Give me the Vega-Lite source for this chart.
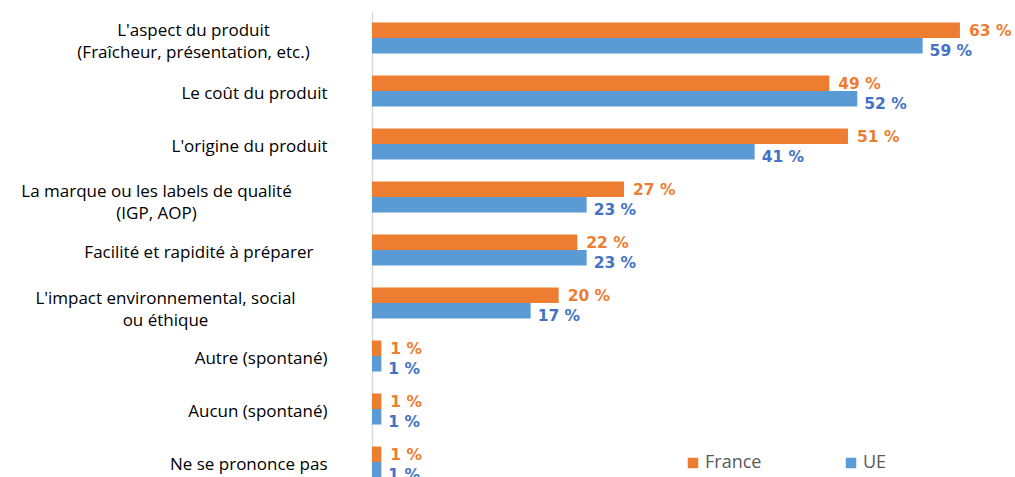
{
  "$schema": "https://vega.github.io/schema/vega-lite/v6.json",
  "width": 643,
  "height": 477,
  "autosize": {"type": "none"},
  "padding": {"left": 372, "top": 0, "right": 0, "bottom": 0},
  "background": "white",
  "config": {"view": {"stroke": null}},
  "data": {
    "values": [
      {"cat": "L'aspect du produit|(Fraîcheur, présentation, etc.)", "serie": "France", "v": 63, "lab": "63 %"},
      {"cat": "L'aspect du produit|(Fraîcheur, présentation, etc.)", "serie": "UE", "v": 59, "lab": "59 %"},
      {"cat": "Le coût du produit", "serie": "France", "v": 49, "lab": "49 %"},
      {"cat": "Le coût du produit", "serie": "UE", "v": 52, "lab": "52 %"},
      {"cat": "L'origine du produit", "serie": "France", "v": 51, "lab": "51 %"},
      {"cat": "L'origine du produit", "serie": "UE", "v": 41, "lab": "41 %"},
      {"cat": "La marque ou les labels de qualité|(IGP, AOP)", "serie": "France", "v": 27, "lab": "27 %"},
      {"cat": "La marque ou les labels de qualité|(IGP, AOP)", "serie": "UE", "v": 23, "lab": "23 %"},
      {"cat": "Facilité et rapidité à préparer", "serie": "France", "v": 22, "lab": "22 %"},
      {"cat": "Facilité et rapidité à préparer", "serie": "UE", "v": 23, "lab": "23 %"},
      {"cat": "L'impact environnemental, social|ou éthique", "serie": "France", "v": 20, "lab": "20 %"},
      {"cat": "L'impact environnemental, social|ou éthique", "serie": "UE", "v": 17, "lab": "17 %"},
      {"cat": "Autre (spontané)", "serie": "France", "v": 1, "lab": "1 %"},
      {"cat": "Autre (spontané)", "serie": "UE", "v": 1, "lab": "1 %"},
      {"cat": "Aucun (spontané)", "serie": "France", "v": 1, "lab": "1 %"},
      {"cat": "Aucun (spontané)", "serie": "UE", "v": 1, "lab": "1 %"},
      {"cat": "Ne se prononce pas", "serie": "France", "v": 1, "lab": "1 %"},
      {"cat": "Ne se prononce pas", "serie": "UE", "v": 1, "lab": "1 %"}
    ]
  },
  "encoding": {
    "y": {
      "field": "cat",
      "type": "nominal",
      "sort": null,
      "scale": {"range": [11.5, 488.5], "paddingInner": 0.415, "paddingOuter": 0.2075},
      "axis": {
        "title": null,
        "ticks": false,
        "grid": false,
        "domain": true,
        "domainColor": "#d9d9d9",
        "domainWidth": 1.5,
        "labelExpr": "split(datum.label, '|')",
        "labelFont": "Open Sans",
        "labelFontSize": 17,
        "labelColor": "#000000",
        "labelLineHeight": 21.5,
        "labelLimit": 400,
        "labelBaseline": "middle",
        "labelAlign": {"condition": {"test": "indexof(datum.value, '|') >= 0", "value": "center"}, "value": "right"},
        "labelOffset": {"condition": [
          {"test": "indexof(datum.value, 'aspect') >= 0", "value": -7},
          {"test": "indexof(datum.value, 'marque') >= 0", "value": -5},
          {"test": "indexof(datum.value, 'impact') >= 0", "value": -4}
        ], "value": 3},
        "labelPadding": {"condition": [
          {"test": "indexof(datum.value, 'aspect') >= 0", "value": 179},
          {"test": "indexof(datum.value, 'marque') >= 0", "value": 216},
          {"test": "indexof(datum.value, 'impact') >= 0", "value": 207},
          {"test": "indexof(datum.value, 'Facilit') >= 0", "value": 59}
        ], "value": 45}
      }
    },
    "yOffset": {"field": "serie", "type": "nominal", "sort": ["France", "UE"]},
    "x": {
      "field": "v",
      "type": "quantitative",
      "scale": {"domain": [0, 68.9], "nice": false, "zero": true},
      "axis": null
    }
  },
  "layer": [
    {
      "mark": {"type": "bar"},
      "encoding": {
        "color": {
          "field": "serie",
          "type": "nominal",
          "scale": {"domain": ["France", "UE"], "range": ["#ED7D31", "#5B9BD5"]},
          "legend": {
            "title": null,
            "orient": "none",
            "legendX": 312,
            "legendY": 454,
            "direction": "horizontal",
            "symbolType": "square",
            "symbolSize": 110,
            "symbolStrokeWidth": 0,
            "labelFont": "Open Sans",
            "labelFontSize": 18,
            "labelColor": "#595959",
            "labelOffset": 3,
            "columnPadding": 80
          }
        }
      }
    },
    {
      "transform": [{"filter": "datum.serie == 'France'"}],
      "mark": {"type": "text", "align": "left", "baseline": "middle", "dx": 9, "dy": 1, "font": "DejaVu Sans", "fontWeight": "bold", "fontSize": 15.5, "color": "#ED7D31"},
      "encoding": {
        "text": {"field": "lab", "type": "nominal"}
      }
    },
    {
      "transform": [{"filter": "datum.serie == 'UE'"}],
      "mark": {"type": "text", "align": "left", "baseline": "middle", "dx": 7, "dy": 5, "font": "DejaVu Sans", "fontWeight": "bold", "fontSize": 15.5, "color": "#4472C4"},
      "encoding": {
        "text": {"field": "lab", "type": "nominal"}
      }
    }
  ]
}
